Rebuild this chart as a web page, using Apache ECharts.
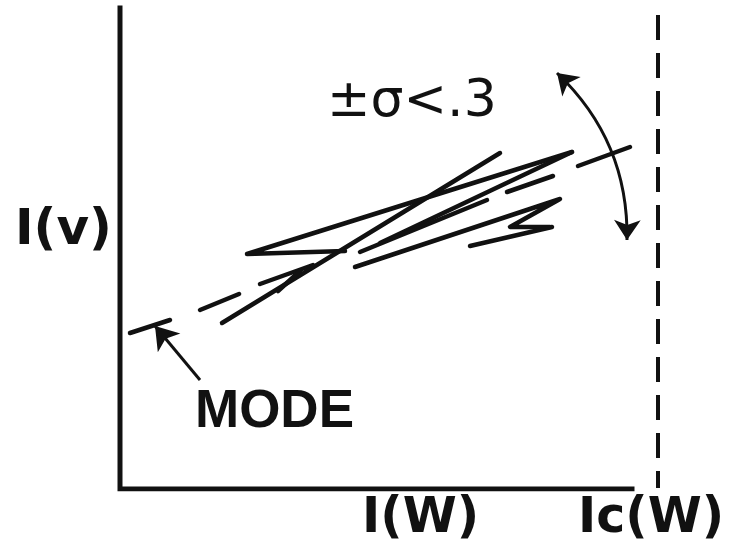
<!DOCTYPE html>
<html>
<head>
<meta charset="utf-8">
<script src="https://cdn.jsdelivr.net/npm/echarts@6/dist/echarts.min.js"></script>
<style>html,body{margin:0;padding:0;background:#fff}#c{width:732px;height:543px}</style>
</head>
<body>
<div id="c"></div>
<script>
// Schematic units: x measured rightwards from the I(v) axis, y upwards from the I(W) axis.
const frame = [[0, 481], [0, 0], [512, 0]];
const criticalLineX = 538;
const criticalLineY = [1, 474];
const modeDashes = [
  [[10, 156], [50, 169]],
  [[80, 179], [119, 195]],
  [[140, 205], [193, 224]],
  [[387, 297], [433, 313]],
  [[458, 323], [510, 342]]
];
const strokes = [
  [[102, 166], [380, 336]],
  [[225, 238], [127, 235], [452, 337]],
  [[452, 337], [260, 246]],
  [[367, 289], [240, 237]],
  [[235, 222], [440, 290], [390, 262], [430, 262]],
  [[350, 243], [432, 262]],
  [[180, 218], [158, 198]]
];
const modeArrow = [[80, 109], [35, 163]];
const spreadArrow = [[437, 416], [507, 249]];
const labels = {
  yName: 'I(v)', xName: 'I(W)', xCrit: 'Ic(W)', mode: 'MODE', spread: '±σ<.3'
};

const chart = echarts.init(document.getElementById('c'), null, {renderer: 'canvas'});
const ink = '#111';
const strokeStyle = {color: ink, width: 4.5, cap: 'round', join: 'round', opacity: 1};

chart.setOption({
  animation: false,
  backgroundColor: '#fff',
  grid: {left: 120, top: 0, width: 612, height: 489},
  xAxis: {type: 'value', min: 0, max: 612, show: false},
  yAxis: {type: 'value', min: 0, max: 489, show: false},
  series: [
    {type: 'lines', coordinateSystem: 'cartesian2d', polyline: true,
     lineStyle: {color: ink, width: 5, cap: 'square', join: 'miter', opacity: 1},
     data: [{coords: frame}]},
    {type: 'lines', coordinateSystem: 'cartesian2d',
     lineStyle: {color: ink, width: 4, type: [25, 13], opacity: 1},
     data: [{coords: [[criticalLineX, criticalLineY[1]], [criticalLineX, criticalLineY[0]]]}]},
    {type: 'lines', coordinateSystem: 'cartesian2d',
     lineStyle: strokeStyle,
     data: modeDashes.map(c => ({coords: c}))},
    {type: 'lines', coordinateSystem: 'cartesian2d', polyline: true,
     lineStyle: strokeStyle,
     data: strokes.map(c => ({coords: c}))},
    {type: 'lines', coordinateSystem: 'cartesian2d',
     symbol: ['none', 'arrow'], symbolSize: 22,
     lineStyle: {color: ink, width: 3, opacity: 1},
     itemStyle: {color: ink},
     data: [{coords: modeArrow}]},
    {type: 'lines', coordinateSystem: 'cartesian2d',
     symbol: ['arrow', 'arrow'], symbolSize: 20,
     lineStyle: {color: ink, width: 3, curveness: 0.22, opacity: 1},
     data: [{coords: spreadArrow}]}
  ],
  graphic: [
    {type: 'text', left: 15, top: 206, style: {text: labels.yName, font: 'bold 50px "DejaVu Sans"', fill: ink}},
    {type: 'text', left: 195, top: 386, style: {text: labels.mode, font: 'bold 53px "Liberation Sans"', fill: ink}},
    {type: 'text', left: 362, top: 495, style: {text: labels.xName, font: 'bold 49px "DejaVu Sans"', fill: ink}},
    {type: 'text', left: 578, top: 495, style: {text: labels.xCrit, font: 'bold 49px "DejaVu Sans"', fill: ink}},
    {type: 'text', left: 327, top: 76, style: {text: labels.spread, font: '52px "DejaVu Sans"', fill: ink}}
  ]
});
</script>
</body>
</html>
